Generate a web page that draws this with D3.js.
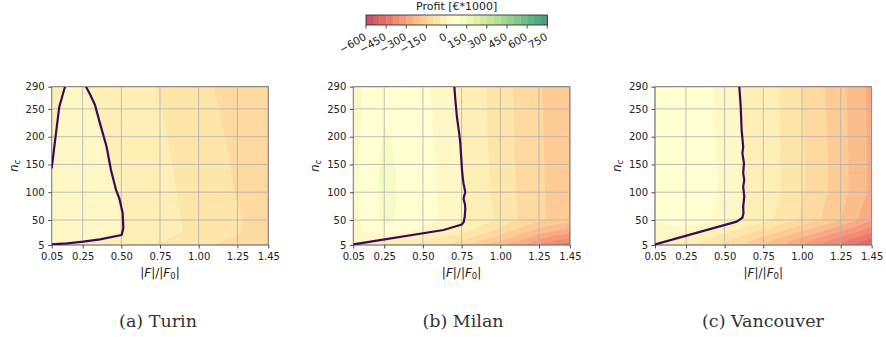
<!DOCTYPE html>
<html>
<head>
<meta charset="utf-8">
<script src="https://cdn.jsdelivr.net/npm/d3@7/dist/d3.min.js"></script>
<style>
  body { margin: 0; background: #fff; }
  svg text { font-family: "DejaVu Sans", sans-serif; fill: #222; }
</style>
</head>
<body>
<svg id="chart" width="886" height="337"></svg>
<script>
// grid columns (|F|/|F0|) and rows (n_c) of the profit maps
const fRatio = [0.05, 0.15, 0.25, 0.35, 0.45, 0.55, 0.65, 0.75, 0.85, 0.95, 1.05, 1.15, 1.25, 1.35, 1.45];
const nC = [5, 15, 30, 50, 100, 150, 200, 250, 290];

// profit [€*1000], one row per n_c (bottom row first)
const turinProfit = [
    [-0.5, -2.3, -5.3, -12, -22, -34, -46, -58, -70, -82, -95, -108, -121, -135, -150],
    [3, 4.3, 3.5, 0.4, -10, -21.5, -32.9, -44.3, -56.3, -68.8, -81.3, -93.8, -107, -121, -135],
    [10, 14, 18, 11, 4, -5.4, -18.1, -30.9, -43.6, -56.6, -69.7, -82.9, -96.1, -108.2, -120],
    [12, 16, 20, 12.3, 4.7, -5.1, -18.3, -31.5, -44.7, -57.7, -70.5, -83.3, -96.2, -107.4, -118],
    [8, 13, 18, 9.8, 1.6, -10.3, -23.1, -35.9, -48.7, -62.2, -75.7, -89.2, -102.3, -113.6, -125],
    [-0.3, 9.5, 10.9, 4.7, -2.9, -15.3, -27.7, -40.1, -52.7, -66.2, -79.7, -93.2, -106, -118, -130],
    [-1, 7.2, 8.8, 2.4, -7.6, -19.7, -31.8, -43.9, -56.8, -70.3, -83.8, -97.3, -110, -122.5, -135],
    [-2.5, 4.1, 4.9, -2.3, -14, -25.6, -37.2, -48.8, -62.2, -75.7, -89.2, -102.5, -115, -127.5, -140],
    [-2, 0.7, 0.9, -8.7, -19.9, -31, -42.2, -54, -67.3, -80.7, -94, -107, -119.7, -132.3, -145]
];
const milanProfit = [
    [-2, -12, -25, -40, -60, -80, -105, -140, -180, -220, -258, -300, -360, -398, -430],
    [15, 8, 0.5, -15, -30, -50, -70, -90, -125, -165, -205, -250, -300, -338, -370],
    [30, 62, 90, 72, 45, 12, -12, -33, -65, -100, -140, -180, -225, -250, -272],
    [35, 75, 108, 96.6, 79.3, 62.1, 39.7, 5.2, -22.1, -48.2, -79.8, -110.5, -138.7, -163.1, -185],
    [40, 77.8, 112, 96.3, 77.8, 59.3, 35.6, 6.9, -22.9, -53.1, -84.4, -113.9, -141.7, -162.4, -180],
    [38, 77.8, 110, 96.2, 76.9, 57.7, 31.3, 0, -27.8, -56.1, -86.4, -115.3, -143.1, -162.9, -180],
    [36, 72.7, 104, 91.1, 73.2, 55.4, 27.4, -4.1, -31.1, -58.8, -88.2, -116.7, -144.4, -162.4, -178],
    [35, 65, 95, 80.9, 66.9, 52.8, 23.3, -7.7, -33.3, -60.3, -89.7, -118.1, -145.8, -161.9, -176],
    [34, 63.3, 90, 76.7, 63.3, 50, 16.2, -12, -35, -60.4, -90.2, -118.9, -147.2, -161.8, -175]
];
const vancouverProfit = [
    [-2, -20, -40, -65, -95, -130, -165, -200, -240, -280, -320, -365, -410, -460, -515],
    [8, 2, -15, -40, -70, -100, -135, -170, -210, -250, -290, -330, -375, -415, -460],
    [25, 30, 22, 2, -25, -50, -80, -110, -145, -180, -215, -255, -295, -340, -385],
    [45, 80, 90, 68, 45, 13, -12, -35, -58, -90, -125, -160, -200, -245, -295],
    [58, 88, 94, 72, 50, 21, -5, -25, -45, -77, -110, -144, -180, -220, -262],
    [60, 88, 93, 71.5, 50, 21.4, -5.1, -25.5, -45.9, -76.7, -110, -143.3, -179.6, -219.6, -262],
    [62, 88, 92, 69.9, 47.1, 18.6, -7, -27, -47, -78.3, -111.7, -145, -181.5, -220.8, -262],
    [62, 86, 89, 67.3, 44.1, 14.7, -9.8, -29.4, -49, -81.7, -115, -148.3, -183.9, -222.9, -264],
    [60, 85, 88, 66.9, 43.9, 13.6, -10.8, -30.4, -50, -83.3, -116.7, -150, -185.7, -225, -265]
];

// zero-profit lines, [|F|/|F0|, n_c]
const turinZeroLeft = [[0.05, 143], [0.075, 200], [0.099, 254], [0.136, 290]];
const turinZero = [[0.272, 290], [0.3, 275], [0.33, 257], [0.362, 224], [0.405, 182], [0.433, 140],
    [0.466, 104], [0.487, 89], [0.509, 62], [0.513, 35], [0.502, 23], [0.362, 15], [0.254, 11],
    [0.15, 8], [0.05, 6]];
const milanZero = [[0.703, 290], [0.71, 265], [0.72, 235], [0.735, 205], [0.742, 187], [0.748, 160],
    [0.753, 139], [0.758, 125], [0.763, 115], [0.774, 100], [0.765, 92], [0.763, 88], [0.772, 78],
    [0.774, 70], [0.77, 55], [0.763, 46], [0.752, 42], [0.633, 32], [0.05, 6]];
const vancouverZero = [[0.595, 290], [0.6, 270], [0.604, 254], [0.61, 212], [0.62, 182], [0.615, 170],
    [0.625, 152], [0.62, 134], [0.627, 122], [0.62, 110], [0.627, 92], [0.62, 74], [0.622, 62],
    [0.615, 54], [0.578, 47], [0.05, 6]];

const captions = ['(a) Turin', '(b) Milan', '(c) Vancouver'];
const xTicks = [0.05, 0.25, 0.5, 0.75, 1.0, 1.25, 1.45];
const yTicks = [5, 50, 100, 150, 200, 250, 290];
const levels = d3.range(-600, 751, 50);
const cbTicks = d3.range(-600, 751, 150);

// matplotlib RdYlGn, drawn with alpha 0.7 on white
const rdylgn = ['#a50026', '#d73027', '#f46d43', '#fdae61', '#fee08b', '#ffffbf',
    '#d9ef8b', '#a6d96a', '#66bd63', '#1a9850', '#006837'];
const cmap = d3.scaleLinear()
    .domain(d3.range(11).map(i => i / 10))
    .range(rdylgn)
    .interpolate(d3.interpolateRgb)
    .clamp(true);
const alpha = 0.7;
function bandColor(lo) {
    const t = (lo + 25 - levels[0]) / (levels[levels.length - 1] - levels[0]);
    const c = d3.rgb(cmap(t));
    const mix = v => Math.round(v * alpha + 255 * (1 - alpha));
    return d3.rgb(mix(c.r), mix(c.g), mix(c.b)).formatHex();
}

const svg = d3.select('#chart');
const panelLeft = [51.7, 353.3, 655];
const plotW = 216.6;
const plotTop = 86.7;
const plotBottom = 245;
const captionX = [158, 463, 763];

const panels = [
    { profit: turinProfit, zero: [turinZeroLeft, turinZero] },
    { profit: milanProfit, zero: [milanZero] },
    { profit: vancouverProfit, zero: [vancouverZero] }
];

// grid index -> data value (samples sit at cell centres)
const gx = d3.scaleLinear().domain(fRatio.map((d, i) => i + 0.5)).range(fRatio);
const gy = d3.scaleLinear().domain(nC.map((d, i) => i + 0.5)).range(nC);

panels.forEach((p, k) => {
    const left = panelLeft[k];
    const x = d3.scaleLinear().domain([0.05, 1.45]).range([left, left + plotW]);
    const y = d3.scaleLinear().domain([5, 290]).range([plotBottom, plotTop]);
    const g = svg.append('g');

    svg.append('clipPath').attr('id', 'clip' + k)
        .append('rect')
        .attr('x', left).attr('y', plotTop)
        .attr('width', plotW).attr('height', plotBottom - plotTop);

    // filled contours
    const contours = d3.contours()
        .size([fRatio.length, nC.length])
        .thresholds(levels.slice(0, -1))(p.profit.flat());
    const proj = d3.geoTransform({
        point: function(px, py) { this.stream.point(x(gx(px)), y(gy(py))); }
    });
    g.append('g')
        .attr('clip-path', `url(#clip${k})`)
        .selectAll('path')
        .data(contours)
        .join('path')
        .attr('d', d3.geoPath(proj))
        .attr('fill', d => bandColor(d.value));

    // spines
    g.append('rect')
        .attr('x', left).attr('y', plotTop)
        .attr('width', plotW).attr('height', plotBottom - plotTop)
        .attr('fill', 'none')
        .attr('stroke', '#222')
        .attr('stroke-width', 0.8);

    // grid
    const grid = g.append('g').attr('stroke', '#b0b0b0').attr('stroke-width', 0.8);
    grid.selectAll('.gx').data(xTicks).join('line')
        .attr('x1', d => x(d)).attr('x2', d => x(d))
        .attr('y1', plotTop).attr('y2', plotBottom);
    grid.selectAll('.gy').data(yTicks).join('line')
        .attr('x1', left).attr('x2', left + plotW)
        .attr('y1', d => y(d)).attr('y2', d => y(d));

    // zero-profit line
    const line = d3.line().x(d => x(d[0])).y(d => y(d[1]));
    g.append('g')
        .attr('clip-path', `url(#clip${k})`)
        .selectAll('path')
        .data(p.zero)
        .join('path')
        .attr('d', line)
        .attr('fill', 'none')
        .attr('stroke', '#3a0a54')
        .attr('stroke-width', 2.2)
        .attr('stroke-linejoin', 'round');

    // axes
    const xa = g.append('g')
        .attr('transform', `translate(0,${plotBottom})`)
        .call(d3.axisBottom(x).tickValues(xTicks).tickFormat(d3.format('.2f'))
            .tickSize(3.5).tickPadding(4));
    const ya = g.append('g')
        .attr('transform', `translate(${left},0)`)
        .call(d3.axisLeft(y).tickValues(yTicks).tickSize(3.5).tickPadding(3.5));
    [xa, ya].forEach(a => {
        a.select('.domain').remove();
        a.selectAll('.tick line').attr('stroke', '#222').attr('stroke-width', 0.8);
        a.selectAll('.tick text').attr('font-size', '10px')
            .attr('font-family', '"DejaVu Sans", sans-serif').attr('fill', '#222');
    });

    // axis labels
    const xl = g.append('text')
        .attr('x', left + plotW / 2).attr('y', 277)
        .attr('text-anchor', 'middle').attr('font-size', '12px');
    xl.append('tspan').text('|');
    xl.append('tspan').attr('font-style', 'italic').text('F');
    xl.append('tspan').text('|/|');
    xl.append('tspan').attr('font-style', 'italic').text('F');
    xl.append('tspan').attr('font-size', '8.5px').attr('baseline-shift', '-20%').text('0');
    xl.append('tspan').text('|');

    const yl = g.append('text')
        .attr('transform', `translate(${left - 34},${(plotTop + plotBottom) / 2}) rotate(-90)`)
        .attr('text-anchor', 'middle').attr('font-size', '12px');
    yl.append('tspan').attr('font-style', 'italic').text('n');
    yl.append('tspan').attr('font-style', 'italic').attr('font-size', '8.5px')
        .attr('baseline-shift', '-20%').text('c');

    // caption
    svg.append('text')
        .attr('x', captionX[k]).attr('y', 326.5)
        .attr('text-anchor', 'middle')
        .style('font-family', '"DejaVu Serif", serif')
        .style('font-size', '17.5px')
        .style('fill', '#333')
        .text(captions[k]);
});

// colorbar
const cbX = d3.scaleLinear().domain([-600, 750]).range([366, 547.3]);
const cbTop = 15, cbH = 10;
const cb = svg.append('g');
cb.selectAll('rect.band')
    .data(levels.slice(0, -1))
    .join('rect')
    .attr('x', d => cbX(d)).attr('y', cbTop)
    .attr('width', d => cbX(d + 50) - cbX(d) + 0.3).attr('height', cbH)
    .attr('fill', d => bandColor(d));
cb.append('rect')
    .attr('x', cbX(-600)).attr('y', cbTop)
    .attr('width', cbX(750) - cbX(-600)).attr('height', cbH)
    .attr('fill', 'none').attr('stroke', '#222').attr('stroke-width', 0.8);
cb.selectAll('line.tk')
    .data(cbTicks)
    .join('line')
    .attr('x1', d => cbX(d)).attr('x2', d => cbX(d))
    .attr('y1', cbTop + cbH).attr('y2', cbTop + cbH + 3.5)
    .attr('stroke', '#222').attr('stroke-width', 0.8);
cb.selectAll('text.tk')
    .data(cbTicks)
    .join('text')
    .attr('transform', d => `translate(${cbX(d) + 1},39) rotate(-30)`)
    .attr('text-anchor', 'end')
    .attr('font-size', '10.5px')
    .text(d => (d < 0 ? '\u2212' : '') + Math.abs(d));
cb.append('text')
    .attr('x', (cbX(-600) + cbX(750)) / 2).attr('y', 9.5)
    .attr('text-anchor', 'middle')
    .attr('font-size', '11px')
    .text('Profit [€*1000]');
</script>
</body>
</html>
